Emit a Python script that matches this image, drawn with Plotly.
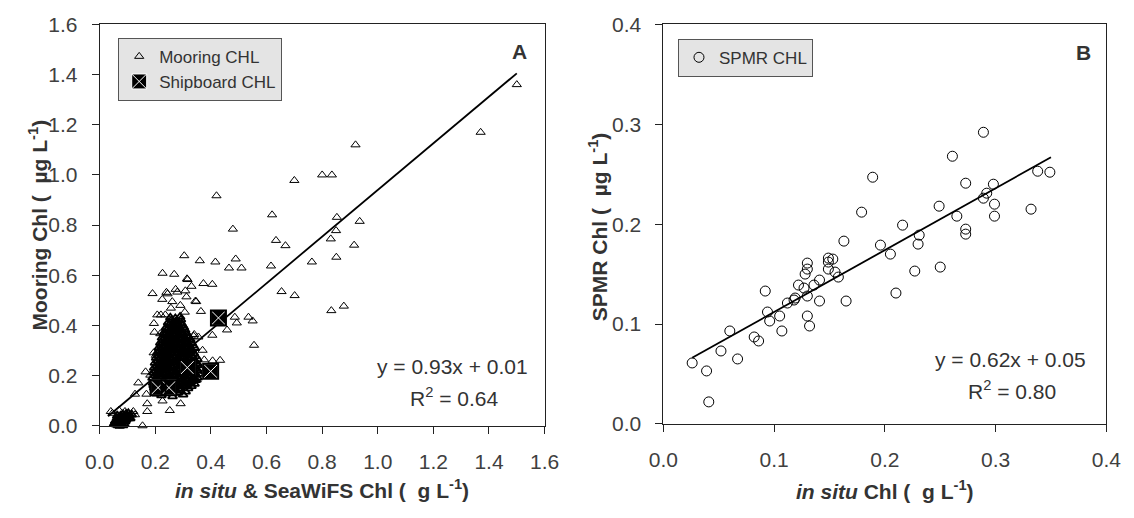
import plotly.graph_objects as go

# ---------------- data ----------------
# Panel A: mooring CHL vs in situ & SeaWiFS CHL (scattered points)
mooring_outer_x = [
    1.50, 1.37, 0.92, 0.80, 0.835, 0.70, 0.42, 0.62, 0.853, 0.935, 0.479, 0.85, 0.634, 0.831,
    0.668, 0.915, 0.851, 0.304, 0.489, 0.36, 0.416, 0.763, 0.465, 0.51, 0.616, 0.226, 0.268,
    0.314, 0.373, 0.405, 0.654, 0.701, 0.19, 0.24, 0.273, 0.225, 0.344, 0.364, 0.236, 0.535,
    0.486, 0.55, 0.493, 0.458, 0.405, 0.833, 0.878, 0.555, 0.433, 0.406, 0.338,
    0.244, 0.279, 0.316, 0.33, 0.308, 0.312, 0.347, 0.261, 0.306, 0.256, 0.207, 0.22, 0.195,
    0.197, 0.218, 0.34, 0.355, 0.37, 0.376, 0.194, 0.165, 0.182, 0.139, 0.127, 0.168, 0.171,
    0.171, 0.154, 0.252, 0.291, 0.226, 0.291, 0.349, 0.367, 0.29, 0.202, 0.213,
    0.040, 0.046, 0.069, 0.091, 0.121, 0.127, 0.109,
]
mooring_outer_y = [
    1.36, 1.17, 1.12, 1.00, 1.00, 0.978, 0.917, 0.841, 0.831, 0.815, 0.784, 0.778, 0.739, 0.745,
    0.718, 0.72, 0.672, 0.678, 0.665, 0.658, 0.653, 0.653, 0.629, 0.629, 0.637, 0.608, 0.604,
    0.586, 0.567, 0.564, 0.535, 0.519, 0.527, 0.532, 0.544, 0.504, 0.497, 0.456, 0.442, 0.433,
    0.433, 0.418, 0.41, 0.382, 0.361, 0.459, 0.477, 0.321, 0.261, 0.259, 0.357,
    0.526, 0.533, 0.583, 0.556, 0.538, 0.514, 0.495, 0.495, 0.453, 0.469, 0.442, 0.442, 0.408,
    0.373, 0.367, 0.364, 0.354, 0.301, 0.263, 0.291, 0.215, 0.202, 0.171, 0.126, 0.126, 0.088,
    0.057, 0.0, 0.061, 0.088, 0.099, 0.164, 0.183, 0.228, 0.48, 0.281, 0.296,
    0.057, 0.050, 0.062, 0.057, 0.057, 0.044, 0.043,
]
# Panel A: dense points near the origin
mooring_low_x = [
    0.057, 0.060, 0.065, 0.070, 0.075, 0.080, 0.085, 0.090, 0.095, 0.100, 0.062, 0.072, 0.068,
    0.078, 0.088, 0.105, 0.115, 0.083, 0.058, 0.052, 0.056, 0.061, 0.066, 0.071, 0.074, 0.079,
    0.082, 0.086, 0.092, 0.097, 0.063, 0.076, 0.094, 0.103, 0.110, 0.066, 0.084,
]
mooring_low_y = [
    0.011, 0.005, 0.015, 0.025, 0.010, 0.030, 0.020, 0.035, 0.025, 0.040, 0.030, 0.000, 0.008,
    0.018, 0.008, 0.030, 0.045, 0.045, 0.020, 0.008, 0.018, 0.012, 0.022, 0.016, 0.028, 0.008,
    0.024, 0.034, 0.018, 0.032, 0.040, 0.040, 0.046, 0.050, 0.030, 0.002, 0.002,
]
# Panel A: dense core of the cloud
mooring_core_x = [
    0.205, 0.222, 0.238, 0.262, 0.281, 0.300,
    0.201, 0.218, 0.234, 0.251, 0.270, 0.290, 0.309,
    0.196, 0.214, 0.231, 0.247, 0.266, 0.283, 0.302, 0.318,
    0.194, 0.211, 0.228, 0.245, 0.262, 0.279, 0.297, 0.313, 0.330,
    0.192, 0.208, 0.225, 0.243, 0.258, 0.276, 0.291, 0.309, 0.327, 0.341,
    0.198, 0.214, 0.231, 0.247, 0.263, 0.280, 0.296, 0.312, 0.329, 0.345,
    0.190, 0.206, 0.221, 0.239, 0.254, 0.270, 0.288, 0.304, 0.320, 0.337, 0.352,
    0.199, 0.216, 0.232, 0.248, 0.265, 0.282, 0.298, 0.315, 0.331, 0.347,
    0.193, 0.209, 0.226, 0.241, 0.259, 0.275, 0.292, 0.308, 0.325, 0.340, 0.357,
    0.202, 0.219, 0.236, 0.252, 0.268, 0.285, 0.301, 0.318, 0.334, 0.352,
    0.196, 0.212, 0.229, 0.245, 0.262, 0.279, 0.295, 0.311, 0.328, 0.346, 0.361,
    0.206, 0.222, 0.239, 0.255, 0.272, 0.288, 0.305, 0.321, 0.338, 0.354,
    0.199, 0.216, 0.232, 0.248, 0.265, 0.281, 0.298, 0.314, 0.331, 0.349,
    0.209, 0.226, 0.242, 0.258, 0.275, 0.291, 0.308, 0.324, 0.341,
    0.203, 0.219, 0.236, 0.252, 0.268, 0.285, 0.301, 0.318, 0.334, 0.351,
    0.213, 0.229, 0.246, 0.262, 0.278, 0.295, 0.311, 0.328, 0.344,
    0.207, 0.223, 0.240, 0.256, 0.272, 0.289, 0.305, 0.321, 0.338,
    0.217, 0.234, 0.250, 0.266, 0.283, 0.299, 0.315, 0.332,
    0.212, 0.228, 0.244, 0.260, 0.277, 0.293, 0.309, 0.326, 0.342,
    0.222, 0.238, 0.255, 0.271, 0.288, 0.304, 0.320, 0.336,
    0.218, 0.234, 0.250, 0.266, 0.282, 0.298, 0.314, 0.331,
    0.228, 0.245, 0.261, 0.277, 0.293, 0.310, 0.326,
    0.224, 0.240, 0.257, 0.273, 0.289, 0.305, 0.321,
    0.235, 0.251, 0.268, 0.284, 0.300, 0.316,
    0.231, 0.247, 0.263, 0.279, 0.296, 0.312,
    0.242, 0.258, 0.275, 0.291, 0.307,
    0.238, 0.255, 0.271, 0.287, 0.303,
    0.250, 0.266, 0.283, 0.299,
    0.246, 0.262, 0.279, 0.295,
    0.258, 0.276, 0.292,
    0.254, 0.272, 0.289,
]
mooring_core_y = [
    0.128, 0.121, 0.134, 0.117, 0.131, 0.124,
    0.141, 0.138, 0.144, 0.137, 0.142, 0.139, 0.136,
    0.152, 0.146, 0.155, 0.143, 0.151, 0.147, 0.156, 0.149,
    0.161, 0.158, 0.163, 0.160, 0.157, 0.164, 0.159, 0.162, 0.158,
    0.171, 0.166, 0.174, 0.168, 0.172, 0.165, 0.175, 0.169, 0.173, 0.167,
    0.181, 0.178, 0.184, 0.179, 0.182, 0.177, 0.183, 0.180, 0.178, 0.182,
    0.191, 0.187, 0.194, 0.189, 0.186, 0.193, 0.188, 0.195, 0.190, 0.186, 0.192,
    0.201, 0.198, 0.203, 0.199, 0.202, 0.197, 0.204, 0.200, 0.198, 0.203,
    0.212, 0.207, 0.214, 0.209, 0.211, 0.206, 0.213, 0.208, 0.215, 0.210, 0.207,
    0.221, 0.219, 0.224, 0.218, 0.222, 0.220, 0.223, 0.217, 0.221, 0.219,
    0.231, 0.228, 0.234, 0.227, 0.233, 0.229, 0.235, 0.226, 0.232, 0.230, 0.228,
    0.241, 0.238, 0.243, 0.239, 0.242, 0.237, 0.244, 0.240, 0.238, 0.242,
    0.251, 0.247, 0.254, 0.249, 0.253, 0.246, 0.252, 0.248, 0.255, 0.250,
    0.261, 0.258, 0.263, 0.259, 0.262, 0.257, 0.264, 0.260, 0.258,
    0.271, 0.268, 0.274, 0.267, 0.272, 0.269, 0.275, 0.270, 0.273, 0.266,
    0.281, 0.278, 0.283, 0.279, 0.282, 0.277, 0.284, 0.280, 0.278,
    0.291, 0.287, 0.293, 0.288, 0.292, 0.286, 0.294, 0.289, 0.290,
    0.301, 0.298, 0.303, 0.299, 0.302, 0.297, 0.304, 0.300,
    0.311, 0.308, 0.314, 0.307, 0.312, 0.309, 0.313, 0.306, 0.310,
    0.321, 0.318, 0.323, 0.319, 0.322, 0.317, 0.324, 0.320,
    0.331, 0.328, 0.334, 0.327, 0.332, 0.329, 0.333, 0.330,
    0.341, 0.338, 0.343, 0.339, 0.342, 0.337, 0.344,
    0.351, 0.348, 0.354, 0.347, 0.352, 0.349, 0.353,
    0.361, 0.358, 0.363, 0.359, 0.362, 0.357,
    0.371, 0.368, 0.374, 0.367, 0.372, 0.369,
    0.381, 0.378, 0.383, 0.379, 0.382,
    0.391, 0.388, 0.394, 0.387, 0.392,
    0.401, 0.398, 0.403, 0.399,
    0.411, 0.408, 0.414, 0.407,
    0.421, 0.418, 0.423,
    0.431, 0.428, 0.434,
]
ship_x = [0.210, 0.249, 0.315, 0.427, 0.399]
ship_y = [0.152, 0.152, 0.232, 0.430, 0.217]
fit_a = {"slope": 0.93, "intercept": 0.01, "x": [0.03, 1.50]}

# Panel B: SPMR CHL vs in situ CHL
spmr_x = [0.026, 0.039, 0.041, 0.052, 0.060, 0.067, 0.082, 0.086, 0.092, 0.094, 0.096, 0.105,
          0.107, 0.112, 0.118, 0.119, 0.122, 0.127, 0.128, 0.130, 0.130, 0.130, 0.130, 0.132,
          0.136, 0.141, 0.141, 0.149, 0.149, 0.149, 0.153, 0.155, 0.158, 0.163, 0.165, 0.179,
          0.189, 0.196, 0.205, 0.210, 0.216, 0.227, 0.230, 0.231, 0.249, 0.250, 0.261, 0.265,
          0.273, 0.273, 0.273, 0.289, 0.289, 0.292, 0.298, 0.299, 0.299, 0.332, 0.338, 0.349]
spmr_y = [0.061, 0.053, 0.022, 0.073, 0.093, 0.065, 0.087, 0.083, 0.133, 0.112, 0.103, 0.108,
          0.093, 0.121, 0.124, 0.126, 0.139, 0.136, 0.150, 0.161, 0.155, 0.128, 0.108, 0.098,
          0.139, 0.123, 0.144, 0.166, 0.162, 0.155, 0.165, 0.152, 0.147, 0.183, 0.123, 0.212,
          0.247, 0.179, 0.170, 0.131, 0.199, 0.153, 0.180, 0.189, 0.218, 0.157, 0.268, 0.208,
          0.241, 0.195, 0.190, 0.292, 0.226, 0.231, 0.240, 0.208, 0.220, 0.215, 0.253, 0.252]
fit_b = {"slope": 0.62, "intercept": 0.05, "x": [0.026, 0.350]}

ticks_a = [0.0, 0.2, 0.4, 0.6, 0.8, 1.0, 1.2, 1.4, 1.6]
ticks_b = [0.0, 0.1, 0.2, 0.3, 0.4]

dense_x = mooring_core_x + mooring_low_x
dense_y = mooring_core_y + mooring_low_y

# ---------------- style ----------------
W, H = 1134, 518
FONT = "Liberation Sans, Arial, sans-serif"
TXT = "#333333"
TICK = "#404040"
AX = "#222222"


def px_x(p):
    return p / W


def px_y(p):
    return 1 - p / H


fig = go.Figure()

fig.add_trace(go.Scatter(
    x=mooring_outer_x, y=mooring_outer_y, mode="markers", name="Mooring CHL",
    legendgroup="moor",
    marker=dict(symbol="triangle-up-open", size=8, color="black", line=dict(width=1, color="black")),
    xaxis="x", yaxis="y", cliponaxis=False, legend="legend"))
fig.add_trace(go.Scatter(
    x=dense_x, y=dense_y, mode="markers", name="Mooring CHL",
    legendgroup="moor", showlegend=False,
    marker=dict(symbol="triangle-up-open", size=8, color="black", line=dict(width=1.8, color="black")),
    xaxis="x", yaxis="y", cliponaxis=False))
fig.add_trace(go.Scatter(
    x=fit_a["x"], y=[fit_a["slope"] * v + fit_a["intercept"] for v in fit_a["x"]],
    mode="lines", line=dict(color="black", width=1.8), showlegend=False,
    xaxis="x", yaxis="y"))
fig.add_trace(go.Scatter(
    x=ship_x, y=ship_y, mode="markers", name="Shipboard CHL", legendgroup="ship",
    marker=dict(symbol="square-x", size=15, color="black", line=dict(width=1, color="white")),
    xaxis="x", yaxis="y", cliponaxis=False, legend="legend"))
fig.add_trace(go.Scatter(
    x=ship_x, y=ship_y, mode="markers", name="Shipboard CHL", legendgroup="ship", showlegend=False,
    marker=dict(symbol="square-open", size=15, color="black", line=dict(width=2, color="black")),
    xaxis="x", yaxis="y", cliponaxis=False))

fig.add_trace(go.Scatter(
    x=spmr_x, y=spmr_y, mode="markers", name="SPMR CHL",
    marker=dict(symbol="circle-open", size=10, color="black", line=dict(width=1, color="black")),
    xaxis="x2", yaxis="y2", cliponaxis=False, legend="legend2"))
fig.add_trace(go.Scatter(
    x=fit_b["x"], y=[fit_b["slope"] * v + fit_b["intercept"] for v in fit_b["x"]],
    mode="lines", line=dict(color="black", width=1.8), showlegend=False,
    xaxis="x2", yaxis="y2"))

axis_common = dict(
    showline=True, mirror=True, linecolor=AX, linewidth=1,
    ticks="outside", ticklen=7, tickwidth=1, tickcolor=AX,
    showgrid=False, zeroline=False, tickformat=".1f",
    tickfont=dict(family=FONT, size=21, color=TICK),
    ticklabelstandoff=10,
)

fig.update_layout(
    width=W, height=H,
    margin=dict(l=0, r=0, t=0, b=0),
    paper_bgcolor="white", plot_bgcolor="white",
    xaxis=dict(domain=[px_x(87), px_x(544)], range=[0, 1.6], tickvals=ticks_a, anchor="y", **axis_common),
    yaxis=dict(domain=[px_y(433), px_y(13)], range=[0, 1.6], tickvals=ticks_a, anchor="x", **axis_common),
    xaxis2=dict(domain=[px_x(666), px_x(1121)], range=[0, 0.4], tickvals=ticks_b, anchor="y2", **axis_common),
    yaxis2=dict(domain=[px_y(431), px_y(13)], range=[0, 0.4], tickvals=ticks_b, anchor="x2", **axis_common),
    legend=dict(x=px_x(106), y=px_y(27), xanchor="left", yanchor="top",
                bgcolor="#e4e4e4", bordercolor="#555555", borderwidth=1,
                font=dict(family=FONT, size=17, color=TXT), itemwidth=30, tracegroupgap=0),
    legend2=dict(x=px_x(681), y=px_y(28), xanchor="left", yanchor="top",
                 bgcolor="#e4e4e4", bordercolor="#555555", borderwidth=1,
                 font=dict(family=FONT, size=17, color=TXT), itemwidth=30),
    showlegend=True,
)


def ann(text, x, y, size=18, angle=0, xref="paper", yref="paper"):
    fig.add_annotation(text=text, x=x, y=y, xref=xref, yref=yref, showarrow=False,
                       xanchor="center", yanchor="middle",
                       textangle=angle, font=dict(family=FONT, size=size, color=TXT))


NB = "\u00a0"
# axis titles
ann(f"<b><i>in situ</i>{NB}&amp; SeaWiFS Chl ({NB}{NB}g L<sup>-1</sup>)</b>", px_x(315.5), px_y(499), size=21)
ann(f"<b>Mooring Chl ({NB}{NB}µg L<sup>-1</sup>)</b>", px_x(24), px_y(223), size=21, angle=-90)
ann(f"<b><i>in situ</i>{NB}Chl ({NB}{NB}g L<sup>-1</sup>)</b>", px_x(893.5), px_y(500), size=21)
ann(f"<b>SPMR Chl ({NB}{NB}µg L<sup>-1</sup>)</b>", px_x(599), px_y(225), size=21, angle=-90)

# panel letters
ann("<b>A</b>", px_x(518), px_y(41), size=21)
ann("<b>B</b>", px_x(1098), px_y(42), size=21)

# regression equations
ann("y = 0.93x + 0.01", 1.269, 0.236, size=21, xref="x", yref="y")
ann("R<sup>2</sup> = 0.64", 1.275, 0.114, size=21, xref="x", yref="y")
ann("y = 0.62x + 0.05", 0.3138, 0.0641, size=21, xref="x2", yref="y2")
ann("R<sup>2</sup> = 0.80", 0.3145, 0.0344, size=21, xref="x2", yref="y2")

fig.write_html("out.html")
